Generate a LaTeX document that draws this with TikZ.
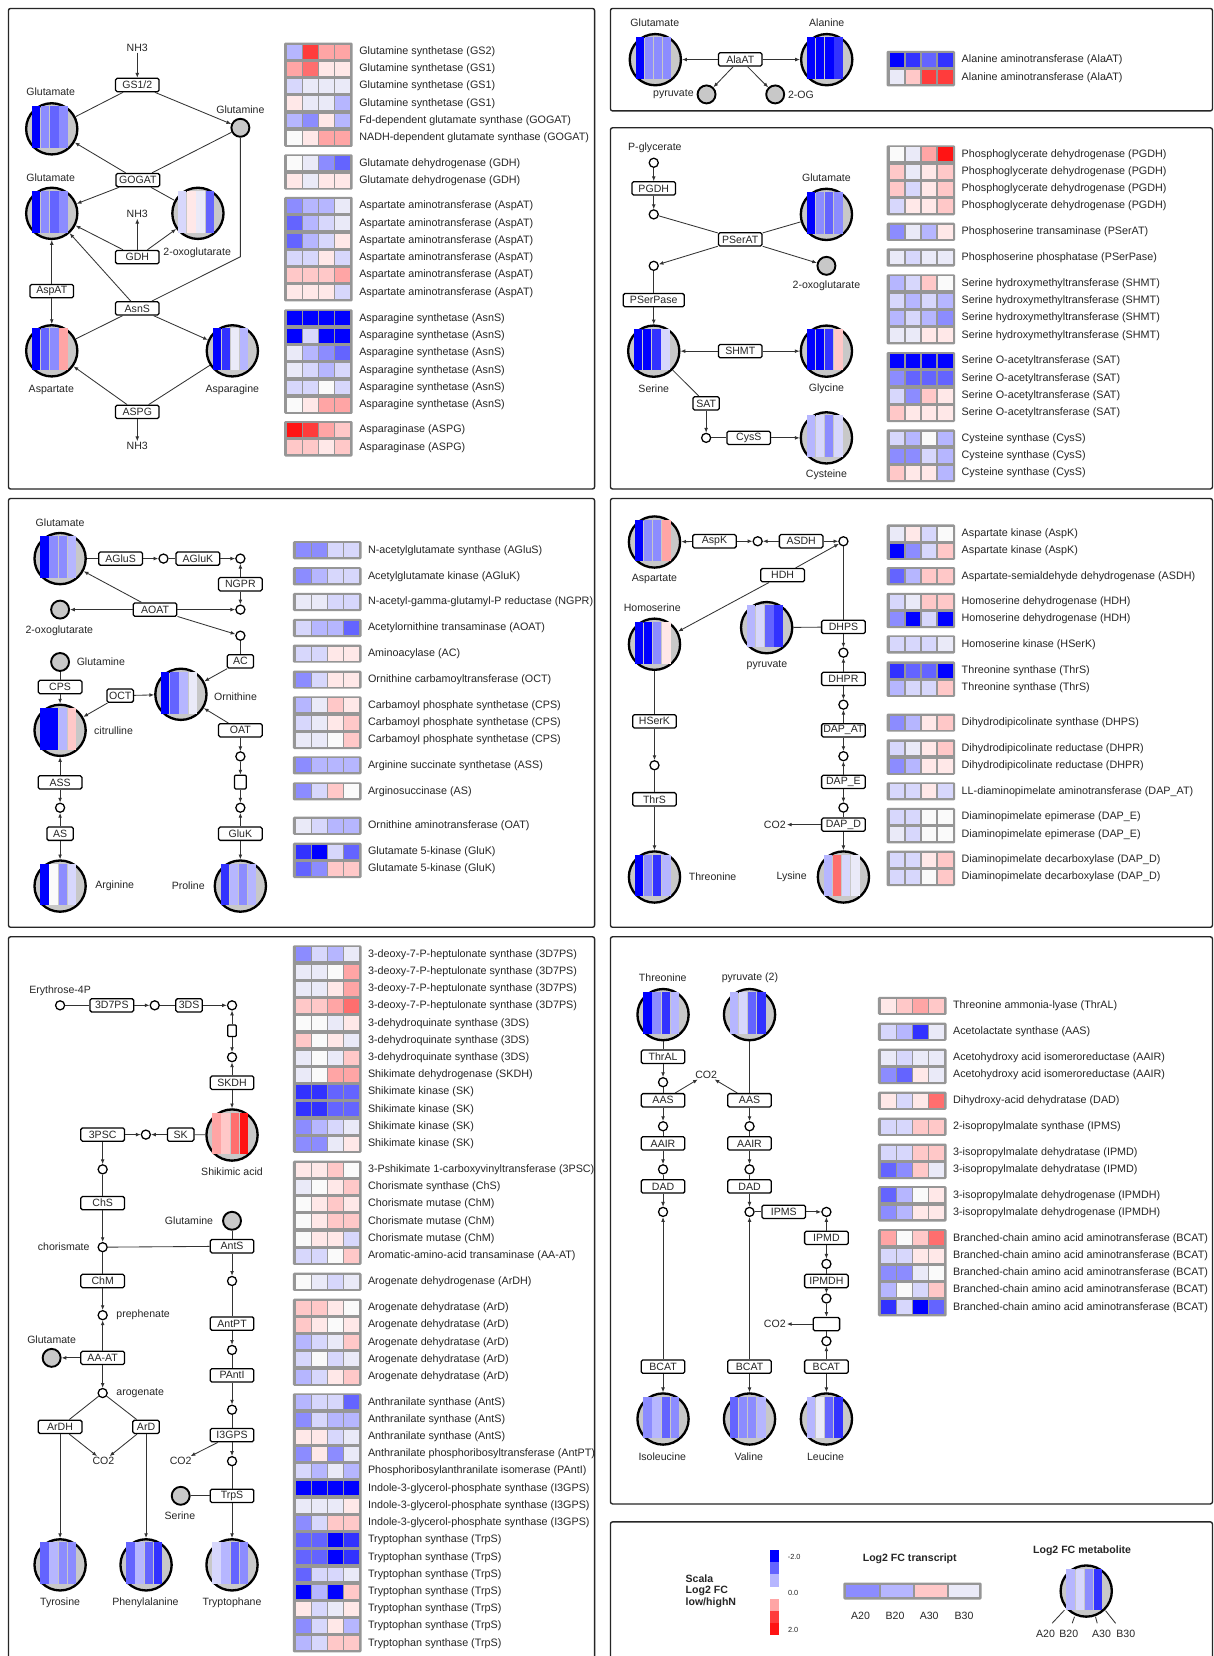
\documentclass[tikz,border=0pt]{standalone}
\usepackage{fontspec}
\setmainfont{Liberation Sans}
\usetikzlibrary{arrows.meta}
\definecolor{b5}{RGB}{0,0,255}
\definecolor{b4}{RGB}{50,50,255}
\definecolor{b3}{RGB}{100,100,255}
\definecolor{b2}{RGB}{140,140,255}
\definecolor{b1}{RGB}{182,182,255}
\definecolor{b0}{RGB}{215,215,252}
\definecolor{w0}{RGB}{234,234,248}
\definecolor{ww}{RGB}{250,250,250}
\definecolor{r0}{RGB}{255,232,232}
\definecolor{r1}{RGB}{255,200,200}
\definecolor{r2}{RGB}{255,165,165}
\definecolor{r3}{RGB}{255,110,110}
\definecolor{r4}{RGB}{255,60,60}
\definecolor{r5}{RGB}{255,20,20}
\definecolor{metgray}{RGB}{200,200,200}
\definecolor{hgray}{RGB}{150,150,150}
\newcounter{hc}
\newcommand\fsz{\fontsize{10}{12}\selectfont}
\newcommand\hsz{\fontsize{10.2}{12}\selectfont}
\newcommand\hgrp[3]{\fill[hgray, rounded corners=1.2pt] (#1,#2-8.6) rectangle (#1+65,#3+8.6);}
\newcommand\hrow[7]{%
  \fill[#3] (#1+2.9,#2-6.6) rectangle ++(14,13.2);
  \fill[#4] (#1+18.1,#2-6.6) rectangle ++(14,13.2);
  \fill[#5] (#1+33.3,#2-6.6) rectangle ++(14,13.2);
  \fill[#6] (#1+48.5,#2-6.6) rectangle ++(14,13.2);
  \stepcounter{hc}\node[hl, anchor=west] (hl\the\value{hc}) at (#1+71,#2) {#7};}
\newcommand\metab[7]{%
  \node[met] (#1) at (#2,#3) {};
  \fill[#4] (#2-18.75,#3-21.25) rectangle ++(7.9,39.5);
  \fill[#5] (#2-10.06,#3-21.25) rectangle ++(7.9,39.5);
  \fill[#6] (#2-1.37,#3-21.25) rectangle ++(7.9,39.5);
  \fill[#7] (#2+7.32,#3-21.25) rectangle ++(7.9,39.5);}
\begin{document}
\begin{tikzpicture}[x=1pt,y=-1pt,
  enz/.style={draw=black, line width=1.2pt, fill=white, rounded corners=1.5pt, minimum width=41.3pt, minimum height=12.6pt, inner sep=0pt, font=\fsz, text=black!85},
  enzs/.style={enz, minimum width=25pt},
  oc/.style={circle, draw=black, line width=1.2pt, fill=white, minimum size=8.6pt, inner sep=0pt},
  gc/.style={circle, draw=black, line width=1.8pt, fill=metgray, minimum size=17pt, inner sep=0pt},
  met/.style={circle, draw=black, line width=2.2pt, fill=metgray, minimum size=48.5pt, inner sep=0pt},
  lbl/.style={font=\fsz, inner sep=1pt, text=black!85},
  hl/.style={font=\hsz, inner sep=0pt, text=black!85},
  arr/.style={-{Latex[length=4.5pt,width=3.6pt]}, line width=0.8pt, draw=black!80},
  lin/.style={line width=0.8pt, draw=black!80},
  panel/.style={draw=black!85, line width=1.3pt, rounded corners=2pt}]
\useasboundingbox (0,0) rectangle (1149,1568);
\fill[white] (0,0) rectangle (1149,1568);
% panels
\draw[panel] (8,8) rectangle (563,463);
\draw[panel] (578,8) rectangle (1148,105);
\draw[panel] (578,121) rectangle (1148,463);
\draw[panel] (8,472) rectangle (563,878);
\draw[panel] (578,472) rectangle (1148,878);
\draw[panel] (8,887) rectangle (563,1590);
\draw[panel] (578,887) rectangle (1148,1424);
\draw[panel] (578,1441) rectangle (1148,1590);

% ================= PANEL 1 =================
\node[lbl] (a_nh3a) at (130,45) {NH3};
\node[enz] (a_gs) at (130,80.5) {GS1/2};
\node[lbl] (a_glul1) at (48,87.2) {Glutamate};
\metab{a_glu1}{49}{122}{b5}{b2}{b3}{b2}
\node[gc] (a_gln) at (227.6,121) {};
\node[lbl] (a_glnl) at (227.6,103.6) {Glutamine};
\node[enz] (a_gogat) at (130.5,170.5) {GOGAT};
\node[lbl] (a_glul2) at (48,168.3) {Glutamate};
\metab{a_glu2}{49}{202}{b5}{b2}{b3}{b2}
\node[lbl] (a_nh3b) at (130,202.4) {NH3};
\node[enz] (a_gdh) at (130,243.4) {GDH};
\metab{a_oxo}{187.4}{202}{b0}{r0}{w0}{b3}
\node[lbl] (a_oxol) at (186.7,239) {2-oxoglutarate};
\node[enz] (a_aspat) at (49,275.6) {AspAT};
\node[enz] (a_asns) at (130,292) {AsnS};
\metab{a_asp}{49}{332.2}{b5}{b3}{b2}{r2}
\node[lbl] (a_aspl) at (48.6,368.8) {Aspartate};
\metab{a_asn}{220}{332.2}{b5}{b4}{w0}{b1}
\node[lbl] (a_asnl) at (220,368.8) {Asparagine};
\node[enz] (a_aspg) at (130,390) {ASPG};
\node[lbl] (a_nh3c) at (130,422.5) {NH3};
\coordinate (a_bend) at (227.6,243.1);
\draw[arr] (a_nh3a) -- (a_gs);
\draw[lin] (a_gs) -- (a_glu1);
\draw[arr] (a_gs) -- (a_gln);
\draw[arr] (a_gogat) -- (a_glu1);
\draw[lin] (a_gln) -- (a_gogat);
\draw[arr] (a_gogat) -- (a_glu2);
\draw[lin] (a_gogat) -- (a_oxo);
\draw[arr] (a_gdh) -- (a_glu2);
\draw[arr] (a_gdh) -- (a_nh3b);
\draw[arr] (a_gdh) -- (a_oxo);
\draw[arr] (a_aspat) -- (a_glu2);
\draw[arr] (a_aspat) -- (a_asp);
\draw[arr] (a_asns) -- (a_glu2);
\draw[lin] (a_gln) -- (a_bend) -- (a_asns);
\draw[lin] (a_asns) -- (a_asp);
\draw[arr] (a_asns) -- (a_asn);
\draw[arr] (a_aspg) -- (a_asp);
\draw[lin] (a_aspg) -- (a_asn);
\draw[arr] (a_aspg) -- (a_nh3c);
% heat panel 1
\hgrp{269}{48.9}{130.4}
\hrow{269}{48.9}{b1}{r4}{r2}{r2}{Glutamine synthetase (GS2)}
\hrow{269}{65.2}{r2}{r3}{r0}{r0}{Glutamine synthetase (GS1)}
\hrow{269}{81.5}{b0}{w0}{w0}{w0}{Glutamine synthetase (GS1)}
\hrow{269}{97.8}{r0}{w0}{w0}{b1}{Glutamine synthetase (GS1)}
\hrow{269}{114.1}{b1}{b2}{r0}{b1}{Fd-dependent glutamate synthase (GOGAT)}
\hrow{269}{130.4}{ww}{r0}{r2}{r2}{NADH-dependent glutamate synthase (GOGAT)}
\hgrp{269}{154.7}{171.0}
\hrow{269}{154.7}{ww}{w0}{b2}{b3}{Glutamate dehydrogenase (GDH)}
\hrow{269}{171.0}{r0}{w0}{r0}{r0}{Glutamate dehydrogenase (GDH)}
\hgrp{269}{195.1}{276.85}
\hrow{269}{195.1}{b2}{b1}{b1}{w0}{Aspartate aminotransferase (AspAT)}
\hrow{269}{211.45}{b3}{b1}{b0}{w0}{Aspartate aminotransferase (AspAT)}
\hrow{269}{227.8}{b3}{b1}{b0}{r0}{Aspartate aminotransferase (AspAT)}
\hrow{269}{244.15}{b0}{b0}{r0}{b0}{Aspartate aminotransferase (AspAT)}
\hrow{269}{260.5}{r1}{r1}{r1}{r2}{Aspartate aminotransferase (AspAT)}
\hrow{269}{276.85}{r0}{r0}{r0}{b0}{Aspartate aminotransferase (AspAT)}
\hgrp{269}{301.5}{383.25}
\hrow{269}{301.5}{b5}{b5}{b5}{b5}{Asparagine synthetase (AsnS)}
\hrow{269}{317.85}{b5}{b0}{b5}{b5}{Asparagine synthetase (AsnS)}
\hrow{269}{334.2}{w0}{b1}{b2}{b3}{Asparagine synthetase (AsnS)}
\hrow{269}{350.55}{w0}{b0}{b1}{b0}{Asparagine synthetase (AsnS)}
\hrow{269}{366.9}{b0}{b0}{ww}{b0}{Asparagine synthetase (AsnS)}
\hrow{269}{383.25}{ww}{r0}{r2}{r2}{Asparagine synthetase (AsnS)}
\hgrp{269}{407.3}{423.65}
\hrow{269}{407.3}{r5}{r4}{r2}{r1}{Asparaginase (ASPG)}
\hrow{269}{423.65}{r1}{r1}{r0}{r1}{Asparaginase (ASPG)}

% ================= PANEL 2 =================
\node[lbl] (b_glul) at (620,21.5) {Glutamate};
\metab{b_glu}{620.5}{56.5}{b5}{b2}{b2}{b2}
\node[lbl] (b_alal) at (782.8,21.5) {Alanine};
\metab{b_ala}{782.8}{56.5}{b5}{b5}{b5}{b4}
\node[enz] (b_alaat) at (700.9,56.2) {AlaAT};
\node[gc] (b_pyr) at (669,89.4) {};
\node[lbl, anchor=east] (b_pyrl) at (658,89.4) {pyruvate};
\node[gc] (b_og) at (734,89.4) {};
\node[lbl, anchor=west] (b_ogl) at (745,89.4) {2-OG};
\draw[arr] (b_alaat) -- (b_glu);
\draw[arr] (b_alaat) -- (b_ala);
\draw[arr] (b_alaat) -- (b_pyr);
\draw[arr] (b_alaat) -- (b_og);
\hgrp{839.4}{56.8}{73.15}
\hrow{839.4}{56.8}{b5}{b4}{b3}{b4}{Alanine aminotransferase (AlaAT)}
\hrow{839.4}{73.15}{w0}{r1}{r4}{r4}{Alanine aminotransferase (AlaAT)}

% ================= PANEL 3 =================
\node[lbl] (c_pgl) at (620.1,139.9) {P-glycerate};
\node[oc] (c_o1) at (619,154.1) {};
\node[enz] (c_pgdh) at (619,178.4) {PGDH};
\node[oc] (c_o2) at (619,203) {};
\node[lbl] (c_glul) at (782.5,168.3) {Glutamate};
\metab{c_glu}{782.5}{203}{b5}{b2}{b3}{b2}
\node[enz] (c_pserat) at (700.9,226.7) {PSerAT};
\node[oc] (c_o3) at (619,251.7) {};
\node[gc] (c_oxo) at (782.5,251.7) {};
\node[lbl] (c_oxol) at (782.5,270.9) {2-oxoglutarate};
\node[enz, minimum width=57.7pt] (c_pserpase) at (619,284.2) {PSerPase};
\metab{c_ser}{619}{332.5}{b5}{b5}{b4}{b0}
\node[lbl] (c_serl) at (619,368.5) {Serine};
\node[enz] (c_shmt) at (700.9,332.5) {SHMT};
\metab{c_gly}{782.5}{332.5}{b5}{b5}{b4}{r1}
\node[lbl] (c_glyl) at (782.5,368.5) {Glycine};
\node[enzs] (c_sat) at (668.6,382) {SAT};
\node[oc] (c_o4) at (668.6,414.6) {};
\node[enz] (c_cyss) at (709,414.6) {CysS};
\metab{c_cys}{782.5}{414.6}{b1}{b0}{b2}{b0}
\node[lbl] (c_cysl) at (782.5,450) {Cysteine};
\draw[arr] (c_o1) -- (c_pgdh);
\draw[arr] (c_pgdh) -- (c_o2);
\draw[lin] (c_o2) -- (c_pserat);
\draw[lin] (c_glu) -- (c_pserat);
\draw[arr] (c_pserat) -- (c_o3);
\draw[arr] (c_pserat) -- (c_oxo);
\draw[lin] (c_o3) -- (c_pserpase);
\draw[arr] (c_pserpase) -- (c_ser);
\draw[arr] (c_shmt) -- (c_ser);
\draw[arr] (c_shmt) -- (c_gly);
\draw[lin] (c_ser) -- (c_sat);
\draw[arr] (c_sat) -- (c_o4);
\draw[lin] (c_o4) -- (c_cyss);
\draw[arr] (c_cyss) -- (c_cys);
\hgrp{839.4}{146.2}{195.25}
\hrow{839.4}{146.2}{ww}{w0}{r2}{r5}{Phosphoglycerate dehydrogenase (PGDH)}
\hrow{839.4}{162.55}{r1}{w0}{r0}{r1}{Phosphoglycerate dehydrogenase (PGDH)}
\hrow{839.4}{178.9}{r1}{b0}{r0}{r1}{Phosphoglycerate dehydrogenase (PGDH)}
\hrow{839.4}{195.25}{b0}{r0}{r0}{r1}{Phosphoglycerate dehydrogenase (PGDH)}
\hgrp{839.4}{219.5}{219.5}
\hrow{839.4}{219.5}{b2}{w0}{b1}{r0}{Phosphoserine transaminase (PSerAT)}
\hgrp{839.4}{243.8}{243.8}
\hrow{839.4}{243.8}{w0}{b0}{w0}{w0}{Phosphoserine phosphatase (PSerPase)}
\hgrp{839.4}{268.4}{317.45}
\hrow{839.4}{268.4}{b1}{b0}{r1}{ww}{Serine hydroxymethyltransferase (SHMT)}
\hrow{839.4}{284.75}{b0}{b1}{b0}{b1}{Serine hydroxymethyltransferase (SHMT)}
\hrow{839.4}{301.1}{b1}{b0}{b1}{b2}{Serine hydroxymethyltransferase (SHMT)}
\hrow{839.4}{317.45}{w0}{w0}{r0}{r0}{Serine hydroxymethyltransferase (SHMT)}
\hgrp{839.4}{342}{391.05}
\hrow{839.4}{342}{b5}{b5}{b5}{b5}{Serine O-acetyltransferase (SAT)}
\hrow{839.4}{358.35}{b2}{b3}{b3}{b3}{Serine O-acetyltransferase (SAT)}
\hrow{839.4}{374.7}{b0}{b2}{r1}{r0}{Serine O-acetyltransferase (SAT)}
\hrow{839.4}{391.05}{r1}{r0}{r0}{r0}{Serine O-acetyltransferase (SAT)}
\hgrp{839.4}{415.2}{447.9}
\hrow{839.4}{415.2}{b0}{b1}{ww}{b1}{Cysteine synthase (CysS)}
\hrow{839.4}{431.55}{b2}{b2}{b0}{b1}{Cysteine synthase (CysS)}
\hrow{839.4}{447.9}{r1}{r0}{r0}{b1}{Cysteine synthase (CysS)}

% ================= PANEL 4 =================
\node[lbl] (d_glul) at (56.9,494.8) {Glutamate};
\metab{d_glu}{56.9}{528.9}{b5}{b2}{b2}{b1}
\node[enz] (d_agluS) at (114.2,528.9) {AGluS};
\node[oc] (d_o1) at (154.8,528.9) {};
\node[enz] (d_agluk) at (187.4,528.9) {AGluK};
\node[oc] (d_o2) at (227.6,528.9) {};
\node[enz] (d_ngpr) at (227.6,553.2) {NGPR};
\node[oc] (d_o3) at (227.6,577.2) {};
\node[enz] (d_aoat) at (146.8,577.2) {AOAT};
\node[gc] (d_oxo) at (56.9,577.2) {};
\node[lbl] (d_oxol) at (56.2,596.8) {2-oxoglutarate};
\node[oc] (d_o4) at (227.6,601.9) {};
\node[enzs] (d_ac) at (227.6,626.2) {AC};
\node[gc] (d_gln) at (56.9,626.8) {};
\node[lbl, anchor=west] (d_glnl) at (71.5,626.8) {Glutamine};
\node[enz] (d_cps) at (56.9,650.5) {CPS};
\node[enzs] (d_oct) at (113.8,658.7) {OCT};
\metab{d_orn}{171.3}{657.4}{b5}{b3}{b1}{w0}
\node[lbl, anchor=west] (d_ornl) at (201.5,659.3) {Ornithine};
\metab{d_cit}{56.9}{691.5}{b5}{b5}{b1}{r1}
\node[lbl, anchor=west] (d_citl) at (88,692.2) {citrulline};
\node[enz] (d_oat) at (227.6,691.5) {OAT};
\node[oc] (d_o5) at (227.6,716.2) {};
\node[draw=black, line width=1.2pt, fill=white, rounded corners=1pt, minimum width=11pt, minimum height=13pt, inner sep=0pt] (d_r) at (227.6,740.5) {};
\node[oc] (d_o6) at (227.6,764.8) {};
\node[enz] (d_gluk) at (227.6,789.4) {GluK};
\metab{d_pro}{227.6}{839}{b4}{b1}{b2}{b1}
\node[lbl, anchor=east] (d_prol) at (195,839) {Proline};
\node[enz] (d_ass) at (56.9,740.8) {ASS};
\node[oc] (d_o7) at (56.9,764.8) {};
\node[enzs] (d_as) at (56.9,789.4) {AS};
\metab{d_arg}{56.9}{839}{b5}{ww}{b2}{b0}
\node[lbl, anchor=west] (d_argl) at (89,839) {Arginine};
\draw[lin] (d_glu) -- (d_agluS);
\draw[arr] (d_agluS) -- (d_o1);
\draw[lin] (d_o1) -- (d_agluk);
\draw[arr] (d_agluk) -- (d_o2);
\draw[arr] (d_ngpr) -- (d_o2);
\draw[arr] (d_ngpr) -- (d_o3);
\draw[arr] (d_aoat) -- (d_oxo);
\draw[arr] (d_aoat) -- (d_o3);
\draw[arr] (d_aoat) -- (d_glu);
\draw[arr] (d_aoat) -- (d_o4);
\draw[lin] (d_o4) -- (d_ac);
\draw[arr] (d_ac) -- (d_orn);
\draw[lin] (d_gln) -- (d_cps);
\draw[arr] (d_cps) -- (d_cit);
\draw[arr] (d_oct) -- (d_orn);
\draw[arr] (d_oct) -- (d_cit);
\draw[arr] (d_oat) -- (d_orn);
\draw[arr] (d_oat) -- (d_o5);
\draw[arr] (d_o5) -- (d_r);
\draw[arr] (d_r) -- (d_o6);
\draw[arr] (d_gluk) -- (d_o6);
\draw[arr] (d_gluk) -- (d_pro);
\draw[arr] (d_ass) -- (d_cit);
\draw[arr] (d_ass) -- (d_o7);
\draw[arr] (d_as) -- (d_o7);
\draw[arr] (d_as) -- (d_arg);
\hgrp{277.3}{521}{521}
\hrow{277.3}{521}{b2}{b2}{b0}{b0}{N-acetylglutamate synthase (AGluS)}
\hgrp{277.3}{545.7}{545.7}
\hrow{277.3}{545.7}{b2}{b1}{b0}{b0}{Acetylglutamate kinase (AGluK)}
\hgrp{277.3}{570}{570}
\hrow{277.3}{570}{w0}{w0}{b0}{b0}{N-acetyl-gamma-glutamyl-P reductase (NGPR)}
\hgrp{277.3}{594.6}{594.6}
\hrow{277.3}{594.6}{b0}{b1}{b1}{b3}{Acetylornithine transaminase (AOAT)}
\hgrp{277.3}{618.9}{618.9}
\hrow{277.3}{618.9}{b0}{b0}{r0}{r0}{Aminoacylase (AC)}
\hgrp{277.3}{643.5}{643.5}
\hrow{277.3}{643.5}{b2}{b0}{r0}{r0}{Ornithine carbamoyltransferase (OCT)}
\hgrp{277.3}{667.9}{700.6}
\hrow{277.3}{667.9}{b1}{w0}{r1}{r0}{Carbamoyl phosphate synthetase (CPS)}
\hrow{277.3}{684.25}{b0}{w0}{r0}{r1}{Carbamoyl phosphate synthetase (CPS)}
\hrow{277.3}{700.6}{w0}{w0}{ww}{r1}{Carbamoyl phosphate synthetase (CPS)}
\hgrp{277.3}{724.7}{724.7}
\hrow{277.3}{724.7}{b2}{b1}{b1}{b1}{Arginine succinate synthetase (ASS)}
\hgrp{277.3}{749.3}{749.3}
\hrow{277.3}{749.3}{b2}{b0}{r1}{ww}{Arginosuccinase (AS)}
\hgrp{277.3}{781.9}{781.9}
\hrow{277.3}{781.9}{w0}{b0}{b1}{b1}{Ornithine aminotransferase (OAT)}
\hgrp{277.3}{806.5}{822.85}
\hrow{277.3}{806.5}{b4}{b5}{b0}{b3}{Glutamate 5-kinase (GluK)}
\hrow{277.3}{822.85}{b3}{b2}{r1}{r1}{Glutamate 5-kinase (GluK)}

% ================= PANEL 5 =================
\metab{e_asp}{619.7}{513.2}{b5}{b2}{b2}{r2}
\node[lbl] (e_aspl) at (619.7,547.8) {Aspartate};
\node[enz] (e_aspk) at (676.5,512.5) {AspK};
\node[oc] (e_o1) at (717.4,512.5) {};
\node[enz] (e_asdh) at (758.6,512.5) {ASDH};
\node[oc] (e_o2) at (798.6,512.5) {};
\node[enz] (e_hdh) at (741,544.6) {HDH};
\node[lbl] (e_hserl) at (617.6,575.6) {Homoserine};
\metab{e_hser}{619.7}{610}{b5}{b5}{b2}{r0}
\metab{e_pyr}{725.9}{594.3}{b1}{b0}{b3}{b4}
\node[lbl] (e_pyrl) at (726.2,630) {pyruvate};
\node[enz] (e_dhps) at (798.6,593.6) {DHPS};
\node[oc] (e_o3) at (798.6,618) {};
\node[enz] (e_dhpr) at (798.6,642.8) {DHPR};
\node[oc] (e_o4) at (798.6,667.2) {};
\node[enz] (e_dapat) at (798.6,691.5) {DAP\_AT};
\node[oc] (e_o5) at (798.6,716) {};
\node[enz] (e_dape) at (798.6,740.4) {DAP\_E};
\node[oc] (e_o6) at (798.6,764.7) {};
\node[enz] (e_dapd) at (798.6,780.8) {DAP\_D};
\node[lbl] (e_co2) at (733.6,780.8) {CO2};
\metab{e_lys}{798.6}{830.4}{b1}{r3}{b0}{w0}
\node[lbl, anchor=east] (e_lysl) at (765,830.4) {Lysine};
\node[enz] (e_hserk) at (619.7,683) {HSerK};
\node[oc] (e_o7) at (619.7,724.6) {};
\node[enz] (e_thrs) at (619.7,756.8) {ThrS};
\metab{e_thr}{619.7}{830.4}{b5}{b2}{b4}{b1}
\node[lbl, anchor=west] (e_thrl) at (651,830.4) {Threonine};
\draw[arr] (e_aspk) -- (e_asp);
\draw[arr] (e_aspk) -- (e_o1);
\draw[arr] (e_asdh) -- (e_o1);
\draw[arr] (e_asdh) -- (e_o2);
\draw[arr] (e_hdh) -- (e_o2);
\draw[arr] (e_hdh) -- (e_hser);
\draw[lin] (e_o2) -- (e_dhps);
\draw[lin] (e_pyr) -- (e_dhps);
\draw[arr] (e_dhps) -- (e_o3);
\draw[arr] (e_dhpr) -- (e_o3);
\draw[arr] (e_dhpr) -- (e_o4);
\draw[arr] (e_dapat) -- (e_o4);
\draw[arr] (e_dapat) -- (e_o5);
\draw[arr] (e_dape) -- (e_o5);
\draw[arr] (e_dape) -- (e_o6);
\draw[lin] (e_o6) -- (e_dapd);
\draw[arr] (e_dapd) -- (e_co2);
\draw[arr] (e_dapd) -- (e_lys);
\draw[lin] (e_hser) -- (e_hserk);
\draw[arr] (e_hserk) -- (e_o7);
\draw[lin] (e_o7) -- (e_thrs);
\draw[arr] (e_thrs) -- (e_thr);
\hgrp{839.4}{505.2}{521.55}
\hrow{839.4}{505.2}{w0}{r0}{b0}{ww}{Aspartate kinase (AspK)}
\hrow{839.4}{521.55}{b5}{b2}{b0}{r1}{Aspartate kinase (AspK)}
\hgrp{839.4}{545.6}{545.6}
\hrow{839.4}{545.6}{b3}{b1}{r1}{r1}{Aspartate-semialdehyde dehydrogenase (ASDH)}
\hgrp{839.4}{569.9}{586.25}
\hrow{839.4}{569.9}{b0}{w0}{r1}{r1}{Homoserine dehydrogenase (HDH)}
\hrow{839.4}{586.25}{b2}{b5}{b0}{b5}{Homoserine dehydrogenase (HDH)}
\hgrp{839.4}{610.2}{610.2}
\hrow{839.4}{610.2}{b0}{b0}{b0}{w0}{Homoserine kinase (HSerK)}
\hgrp{839.4}{634.9}{651.25}
\hrow{839.4}{634.9}{b4}{b3}{b3}{b5}{Threonine synthase (ThrS)}
\hrow{839.4}{651.25}{b1}{b0}{b0}{r1}{Threonine synthase (ThrS)}
\hgrp{839.4}{684.2}{684.2}
\hrow{839.4}{684.2}{b2}{b1}{r0}{r1}{Dihydrodipicolinate synthase (DHPS)}
\hgrp{839.4}{708.7}{725.05}
\hrow{839.4}{708.7}{b0}{w0}{r0}{r1}{Dihydrodipicolinate reductase (DHPR)}
\hrow{839.4}{725.05}{b2}{b1}{r0}{r0}{Dihydrodipicolinate reductase (DHPR)}
\hgrp{839.4}{749.3}{749.3}
\hrow{839.4}{749.3}{b0}{b0}{r0}{b0}{LL-diaminopimelate aminotransferase (DAP\_AT)}
\hgrp{839.4}{773.6}{789.95}
\hrow{839.4}{773.6}{b0}{b0}{ww}{ww}{Diaminopimelate epimerase (DAP\_E)}
\hrow{839.4}{789.95}{w0}{b0}{ww}{ww}{Diaminopimelate epimerase (DAP\_E)}
\hgrp{839.4}{814}{830.35}
\hrow{839.4}{814}{b0}{b0}{r0}{r1}{Diaminopimelate decarboxylase (DAP\_D)}
\hrow{839.4}{830.35}{b0}{b0}{ww}{r1}{Diaminopimelate decarboxylase (DAP\_D)}

% ================= PANEL 6 =================
\node[lbl] (f_e4pl) at (56.9,937.9) {Erythrose-4P};
\node[oc] (f_o1) at (56.9,951.9) {};
\node[enz] (f_3d7ps) at (105.9,951.9) {3D7PS};
\node[oc] (f_o2) at (146.5,951.9) {};
\node[enzs] (f_3ds) at (179,951.9) {3DS};
\node[oc] (f_o3) at (219.7,951.9) {};
\node[draw=black, line width=1.2pt, fill=white, rounded corners=1pt, minimum width=8pt, minimum height=11pt, inner sep=0pt] (f_r) at (219.7,976) {};
\node[oc] (f_o4) at (219.7,1001) {};
\node[enz] (f_skdh) at (219.7,1025.2) {SKDH};
\metab{f_shik}{219.7}{1074.7}{r2}{r1}{r3}{r5}
\node[lbl] (f_shikl) at (219.7,1109.8) {Shikimic acid};
\node[enzs] (f_sk) at (171.1,1074.3) {SK};
\node[oc] (f_o5) at (138.1,1074.3) {};
\node[enz] (f_3psc) at (97.2,1074.3) {3PSC};
\node[oc] (f_o6) at (97.2,1107.2) {};
\node[enz] (f_chs) at (97.2,1139.2) {ChS};
\node[oc] (f_chor) at (97.2,1180.9) {};
\node[lbl, anchor=east] (f_chorl) at (86,1180.9) {chorismate};
\node[gc] (f_gln) at (219.7,1155.9) {};
\node[lbl, anchor=east] (f_glnl) at (203,1155.9) {Glutamine};
\node[enz] (f_ants) at (219.7,1180) {AntS};
\node[enz] (f_chm) at (97.2,1212.9) {ChM};
\node[oc] (f_preph) at (97.2,1245.3) {};
\node[lbl, anchor=west] (f_prephl) at (109,1245.3) {prephenate};
\node[lbl] (f_glul) at (48.9,1268.1) {Glutamate};
\node[gc] (f_glu) at (48.9,1285.7) {};
\node[enz] (f_aaat) at (97.2,1285.7) {AA-AT};
\node[oc] (f_arog) at (97.2,1319) {};
\node[lbl, anchor=west] (f_arogl) at (109,1319) {arogenate};
\node[enz] (f_ardh) at (56.9,1351) {ArDH};
\node[enzs] (f_ard) at (138.3,1351) {ArD};
\node[lbl] (f_co2a) at (97.9,1383.5) {CO2};
\metab{f_tyr}{56.9}{1481.7}{b3}{b1}{b2}{b2}
\node[lbl] (f_tyrl) at (56.9,1517.2) {Tyrosine};
\metab{f_phe}{138.3}{1481.7}{b3}{b1}{b3}{b4}
\node[lbl] (f_phel) at (137.7,1517.2) {Phenylalanine};
\metab{f_trp}{219.7}{1481.7}{b0}{b1}{b3}{b2}
\node[lbl] (f_trpl) at (219.7,1517.2) {Tryptophane};
\node[oc] (f_o7) at (219.7,1212.9) {};
\node[enz] (f_antpt) at (219.7,1253.2) {AntPT};
\node[oc] (f_o8) at (219.7,1278.2) {};
\node[enz] (f_panti) at (219.7,1302.3) {PAntI};
\node[oc] (f_o9) at (219.7,1334.8) {};
\node[enz] (f_i3gps) at (219.7,1358.9) {I3GPS};
\node[lbl] (f_co2b) at (171.1,1383.5) {CO2};
\node[oc] (f_o10) at (219.7,1383.5) {};
\node[enz] (f_trps) at (219.7,1416.3) {TrpS};
\node[gc] (f_ser) at (171.1,1416.3) {};
\node[lbl] (f_serl) at (170.4,1435.2) {Serine};
\draw[lin] (f_o1) -- (f_3d7ps);
\draw[arr] (f_3d7ps) -- (f_o2);
\draw[lin] (f_o2) -- (f_3ds);
\draw[arr] (f_3ds) -- (f_o3);
\draw[arr] (f_r) -- (f_o3);
\draw[arr] (f_r) -- (f_o4);
\draw[arr] (f_skdh) -- (f_o4);
\draw[arr] (f_skdh) -- (f_shik);
\draw[lin] (f_shik) -- (f_sk);
\draw[arr] (f_sk) -- (f_o5);
\draw[arr] (f_3psc) -- (f_o5);
\draw[arr] (f_3psc) -- (f_o6);
\draw[lin] (f_o6) -- (f_chs);
\draw[arr] (f_chs) -- (f_chor);
\draw[lin] (f_chor) -- (f_ants);
\draw[lin] (f_gln) -- (f_ants);
\draw[arr] (f_ants) -- (f_o7);
\draw[lin] (f_chor) -- (f_chm);
\draw[arr] (f_chm) -- (f_preph);
\draw[arr] (f_aaat) -- (f_preph);
\draw[arr] (f_aaat) -- (f_glu);
\draw[arr] (f_aaat) -- (f_arog);
\draw[lin] (f_arog) -- (f_ardh);
\draw[lin] (f_arog) -- (f_ard);
\draw[arr] (f_ardh) -- (f_co2a);
\draw[arr] (f_ard) -- (f_co2a);
\draw[arr] (f_ardh) -- (f_tyr);
\draw[arr] (f_ard) -- (f_phe);
\draw[lin] (f_o7) -- (f_antpt);
\draw[arr] (f_antpt) -- (f_o8);
\draw[lin] (f_o8) -- (f_panti);
\draw[arr] (f_panti) -- (f_o9);
\draw[lin] (f_o9) -- (f_i3gps);
\draw[arr] (f_i3gps) -- (f_co2b);
\draw[arr] (f_i3gps) -- (f_o10);
\draw[lin] (f_o10) -- (f_trps);
\draw[lin] (f_ser) -- (f_trps);
\draw[arr] (f_trps) -- (f_trp);
\hgrp{277.3}{903.7}{1083.0}
\hrow{277.3}{903.7}{b2}{b0}{b1}{w0}{3-deoxy-7-P-heptulonate synthase (3D7PS)}
\hrow{277.3}{920.0}{w0}{w0}{ww}{r2}{3-deoxy-7-P-heptulonate synthase (3D7PS)}
\hrow{277.3}{936.3}{w0}{w0}{r0}{r2}{3-deoxy-7-P-heptulonate synthase (3D7PS)}
\hrow{277.3}{952.6}{r1}{r1}{r2}{r3}{3-deoxy-7-P-heptulonate synthase (3D7PS)}
\hrow{277.3}{968.9}{ww}{ww}{w0}{r0}{3-dehydroquinate synthase (3DS)}
\hrow{277.3}{985.2}{r1}{ww}{r0}{w0}{3-dehydroquinate synthase (3DS)}
\hrow{277.3}{1001.5}{w0}{ww}{w0}{r1}{3-dehydroquinate synthase (3DS)}
\hrow{277.3}{1017.8}{w0}{ww}{r2}{r2}{Shikimate dehydrogenase (SKDH)}
\hrow{277.3}{1034.1}{b4}{b4}{b3}{b3}{Shikimate kinase (SK)}
\hrow{277.3}{1050.4}{b4}{b4}{b3}{b3}{Shikimate kinase (SK)}
\hrow{277.3}{1066.7}{b2}{b1}{b0}{w0}{Shikimate kinase (SK)}
\hrow{277.3}{1083.0}{b2}{b2}{w0}{r0}{Shikimate kinase (SK)}
\hgrp{277.3}{1107.6}{1189.1}
\hrow{277.3}{1107.6}{r0}{r0}{r1}{ww}{3-Pshikimate 1-carboxyvinyltransferase (3PSC)}
\hrow{277.3}{1123.9}{w0}{ww}{r0}{r1}{Chorismate synthase (ChS)}
\hrow{277.3}{1140.2}{ww}{r0}{r1}{r0}{Chorismate mutase (ChM)}
\hrow{277.3}{1156.5}{ww}{r0}{r1}{r1}{Chorismate mutase (ChM)}
\hrow{277.3}{1172.8}{ww}{r0}{r0}{b0}{Chorismate mutase (ChM)}
\hrow{277.3}{1189.1}{b0}{b0}{ww}{r1}{Aromatic-amino-acid transaminase (AA-AT)}
\hgrp{277.3}{1213.7}{1213.7}
\hrow{277.3}{1213.7}{ww}{w0}{b0}{w0}{Arogenate dehydrogenase (ArDH)}
\hgrp{277.3}{1238.3}{1303.5}
\hrow{277.3}{1238.3}{r1}{r1}{r0}{ww}{Arogenate dehydratase (ArD)}
\hrow{277.3}{1254.6}{r1}{r0}{ww}{r0}{Arogenate dehydratase (ArD)}
\hrow{277.3}{1270.9}{b1}{b0}{w0}{r1}{Arogenate dehydratase (ArD)}
\hrow{277.3}{1287.2}{b0}{ww}{b0}{w0}{Arogenate dehydratase (ArD)}
\hrow{277.3}{1303.5}{b1}{b0}{r0}{r1}{Arogenate dehydratase (ArD)}
\hgrp{277.3}{1327.8}{1556.0}
\hrow{277.3}{1327.8}{b1}{b0}{b0}{b3}{Anthranilate synthase (AntS)}
\hrow{277.3}{1344.1}{b2}{b0}{b1}{b1}{Anthranilate synthase (AntS)}
\hrow{277.3}{1360.4}{r0}{r0}{b0}{w0}{Anthranilate synthase (AntS)}
\hrow{277.3}{1376.7}{b2}{r0}{b2}{w0}{Anthranilate phosphoribosyltransferase (AntPT)}
\hrow{277.3}{1393.0}{b0}{b1}{w0}{b1}{Phosphoribosylanthranilate isomerase (PAntI)}
\hrow{277.3}{1409.3}{b5}{b5}{b5}{b5}{Indole-3-glycerol-phosphate synthase (I3GPS)}
\hrow{277.3}{1425.6}{w0}{w0}{w0}{r0}{Indole-3-glycerol-phosphate synthase (I3GPS)}
\hrow{277.3}{1441.9}{b2}{b0}{r1}{r1}{Indole-3-glycerol-phosphate synthase (I3GPS)}
\hrow{277.3}{1458.2}{b3}{b3}{b5}{b4}{Tryptophan synthase (TrpS)}
\hrow{277.3}{1474.5}{b3}{b3}{b5}{b4}{Tryptophan synthase (TrpS)}
\hrow{277.3}{1490.8}{b3}{b0}{b0}{w0}{Tryptophan synthase (TrpS)}
\hrow{277.3}{1507.1}{b5}{b1}{b5}{r1}{Tryptophan synthase (TrpS)}
\hrow{277.3}{1523.4}{r0}{b0}{w0}{r0}{Tryptophan synthase (TrpS)}
\hrow{277.3}{1539.7}{b2}{b0}{r0}{b1}{Tryptophan synthase (TrpS)}
\hrow{277.3}{1556.0}{b1}{b0}{r1}{r1}{Tryptophan synthase (TrpS)}

% ================= PANEL 7 =================
\node[lbl] (g_thrl) at (627.5,926.1) {Threonine};
\metab{g_thr}{627.8}{960.7}{b5}{b2}{b4}{b1}
\node[lbl] (g_pyrl) at (710.1,926.1) {pyruvate (2)};
\metab{g_pyr}{709.7}{960.7}{b1}{b0}{b3}{b4}
\node[enz] (g_thral) at (627.8,1000.6) {ThrAL};
\node[oc] (g_o1) at (627.8,1024.7) {};
\node[enz] (g_aasl) at (627.8,1041.8) {AAS};
\node[lbl] (g_co2a) at (668.6,1017.3) {CO2};
\node[enz] (g_aasr) at (709.7,1041.8) {AAS};
\node[oc] (g_o2l) at (627.8,1066.4) {};
\node[oc] (g_o2r) at (709.7,1066.4) {};
\node[enz] (g_aairl) at (627.8,1082.6) {AAIR};
\node[enz] (g_aairr) at (709.7,1082.6) {AAIR};
\node[oc] (g_o3l) at (627.8,1107.2) {};
\node[oc] (g_o3r) at (709.7,1107.2) {};
\node[enz] (g_dadl) at (627.8,1123.4) {DAD};
\node[enz] (g_dadr) at (709.7,1123.4) {DAD};
\node[oc] (g_o4l) at (627.8,1147.5) {};
\node[oc] (g_o4r) at (709.7,1147.5) {};
\node[enz] (g_ipms) at (742.1,1147.5) {IPMS};
\node[oc] (g_o5) at (782.5,1147.5) {};
\node[enz] (g_ipmd) at (782.5,1172.1) {IPMD};
\node[oc] (g_o6) at (782.5,1196.7) {};
\node[enz] (g_ipmdh) at (782.5,1212.9) {IPMDH};
\node[oc] (g_o7) at (782.5,1229.5) {};
\node[enzs] (g_r) at (782.5,1253.7) {};
\node[lbl] (g_co2b) at (733.6,1253.7) {CO2};
\node[oc] (g_o8) at (782.5,1269.9) {};
\node[enz] (g_bcat1) at (627.8,1294) {BCAT};
\node[enz] (g_bcat2) at (709.7,1294) {BCAT};
\node[enz] (g_bcat3) at (782.5,1294) {BCAT};
\metab{g_ile}{627.8}{1343.6}{b2}{b1}{b3}{b2}
\node[lbl] (g_ilel) at (627.1,1379.5) {Isoleucine};
\metab{g_val}{709.7}{1343.6}{b3}{b2}{b2}{b1}
\node[lbl] (g_vall) at (709,1379.5) {Valine};
\metab{g_leu}{782.5}{1343.6}{b1}{w0}{b3}{b4}
\node[lbl] (g_leul) at (781.7,1379.5) {Leucine};
\draw[lin] (g_thr) -- (g_thral);
\draw[arr] (g_thral) -- (g_o1);
\draw[lin] (g_o1) -- (g_aasl);
\draw[arr] (g_aasl) -- (g_co2a);
\draw[arr] (g_aasr) -- (g_co2a);
\draw[lin] (g_pyr) -- (g_aasr);
\draw[arr] (g_aasl) -- (g_o2l);
\draw[arr] (g_aasr) -- (g_o2r);
\draw[lin] (g_o2l) -- (g_aairl);
\draw[lin] (g_o2r) -- (g_aairr);
\draw[arr] (g_aairl) -- (g_o3l);
\draw[arr] (g_aairr) -- (g_o3r);
\draw[lin] (g_o3l) -- (g_dadl);
\draw[lin] (g_o3r) -- (g_dadr);
\draw[arr] (g_dadl) -- (g_o4l);
\draw[arr] (g_dadr) -- (g_o4r);
\draw[arr] (g_bcat1) -- (g_o4l);
\draw[arr] (g_bcat1) -- (g_ile);
\draw[arr] (g_bcat2) -- (g_o4r);
\draw[arr] (g_bcat2) -- (g_val);
\draw[lin] (g_o4r) -- (g_ipms);
\draw[arr] (g_ipms) -- (g_o5);
\draw[arr] (g_ipmd) -- (g_o5);
\draw[arr] (g_ipmd) -- (g_o6);
\draw[lin] (g_o6) -- (g_ipmdh);
\draw[arr] (g_ipmdh) -- (g_o7);
\draw[arr] (g_o7) -- (g_r);
\draw[arr] (g_r) -- (g_co2b);
\draw[lin] (g_r) -- (g_o8);
\draw[arr] (g_bcat3) -- (g_o8);
\draw[arr] (g_bcat3) -- (g_leu);
\hgrp{831.3}{952.4}{952.4}
\hrow{831.3}{952.4}{r0}{r1}{r2}{r1}{Threonine ammonia-lyase (ThrAL)}
\hgrp{831.3}{976.9}{976.9}
\hrow{831.3}{976.9}{b0}{b1}{b4}{w0}{Acetolactate synthase (AAS)}
\hgrp{831.3}{1001.5}{1017.85}
\hrow{831.3}{1001.5}{w0}{b0}{w0}{w0}{Acetohydroxy acid isomeroreductase (AAIR)}
\hrow{831.3}{1017.85}{b2}{b3}{r0}{w0}{Acetohydroxy acid isomeroreductase (AAIR)}
\hgrp{831.3}{1042.3}{1042.3}
\hrow{831.3}{1042.3}{r0}{b0}{r0}{r3}{Dihydroxy-acid dehydratase (DAD)}
\hgrp{831.3}{1066.8}{1066.8}
\hrow{831.3}{1066.8}{b0}{b0}{r1}{r1}{2-isopropylmalate synthase (IPMS)}
\hgrp{831.3}{1091.4}{1107.75}
\hrow{831.3}{1091.4}{b0}{b0}{r1}{r1}{3-isopropylmalate dehydratase (IPMD)}
\hrow{831.3}{1107.75}{b3}{b2}{r1}{w0}{3-isopropylmalate dehydratase (IPMD)}
\hgrp{831.3}{1131.7}{1148.05}
\hrow{831.3}{1131.7}{b3}{b1}{ww}{r0}{3-isopropylmalate dehydrogenase (IPMDH)}
\hrow{831.3}{1148.05}{b2}{b1}{r0}{r0}{3-isopropylmalate dehydrogenase (IPMDH)}
\hgrp{831.3}{1172.5}{1237.9}
\hrow{831.3}{1172.5}{r2}{ww}{r1}{r3}{Branched-chain amino acid aminotransferase (BCAT)}
\hrow{831.3}{1188.85}{b0}{b0}{r0}{r0}{Branched-chain amino acid aminotransferase (BCAT)}
\hrow{831.3}{1205.2}{b2}{b2}{w0}{ww}{Branched-chain amino acid aminotransferase (BCAT)}
\hrow{831.3}{1221.55}{b1}{ww}{b0}{r1}{Branched-chain amino acid aminotransferase (BCAT)}
\hrow{831.3}{1237.9}{b4}{b0}{b5}{b3}{Branched-chain amino acid aminotransferase (BCAT)}

% ================= PANEL 8 (legend) =================
\node[lbl, font=\bfseries\fsz, align=left, anchor=west] (h_scala) at (648,1506.7) {Scala\\[-1pt]Log2 FC\\[-1pt]low/highN};
\fill[b5] (729.2,1467.7) rectangle ++(8.4,11.53);
\fill[b3] (729.2,1479.23) rectangle ++(8.4,11.53);
\fill[b1] (729.2,1490.76) rectangle ++(8.4,11.53);
\fill[white] (729.2,1502.29) rectangle ++(8.4,11.53);
\fill[r2] (729.2,1513.82) rectangle ++(8.4,11.53);
\fill[r4] (729.2,1525.35) rectangle ++(8.4,11.53);
\fill[r5] (729.2,1536.88) rectangle ++(8.4,11.53);
\node[lbl, font=\fontsize{7}{8}\selectfont] (h_m2) at (752,1473.8) {-2.0};
\node[lbl, font=\fontsize{7}{8}\selectfont] (h_z) at (751,1508.5) {0.0};
\node[lbl, font=\fontsize{7}{8}\selectfont] (h_p2) at (751,1543.1) {2.0};
\node[lbl, font=\bfseries\fsz] (h_tr) at (861.4,1476.4) {Log2 FC transcript};
\fill[hgray, rounded corners=1.2pt] (798.6,1498.4) rectangle (929.4,1514.6);
\fill[b2] (801.4,1501) rectangle ++(30.6,11);
\fill[b1] (833.8,1501) rectangle ++(30.6,11);
\fill[r1] (866.2,1501) rectangle ++(30.6,11);
\fill[w0] (898.6,1501) rectangle ++(28,11);
\node[lbl] (h_ta20) at (814.8,1529.9) {A20};
\node[lbl] (h_tb20) at (847.5,1529.9) {B20};
\node[lbl] (h_ta30) at (879.8,1529.9) {A30};
\node[lbl] (h_tb30) at (912.8,1529.9) {B30};
\node[lbl, font=\bfseries\fsz] (h_met) at (1024.6,1468.8) {Log2 FC metabolite};
\metab{h_c}{1028.5}{1506.5}{b1}{b0}{b2}{b4}
\node[lbl] (h_ma20) at (990,1546.6) {A20};
\node[lbl] (h_mb20) at (1012,1546.6) {B20};
\node[lbl] (h_ma30) at (1043,1546.6) {A30};
\node[lbl] (h_mb30) at (1066,1546.6) {B30};
\coordinate (h_k1a) at (996.2,1537); \coordinate (h_k1b) at (1007.9,1524.5);
\coordinate (h_k2a) at (1015.2,1537); \coordinate (h_k2b) at (1017.4,1530.8);
\coordinate (h_k3a) at (1038.9,1537); \coordinate (h_k3b) at (1037.3,1530.8);
\coordinate (h_k4a) at (1056.3,1537); \coordinate (h_k4b) at (1046.8,1525.1);
\draw[lin] (h_k1a) -- (h_k1b);
\draw[lin] (h_k2a) -- (h_k2b);
\draw[lin] (h_k3a) -- (h_k3b);
\draw[lin] (h_k4a) -- (h_k4b);
\end{tikzpicture}
\end{document}
